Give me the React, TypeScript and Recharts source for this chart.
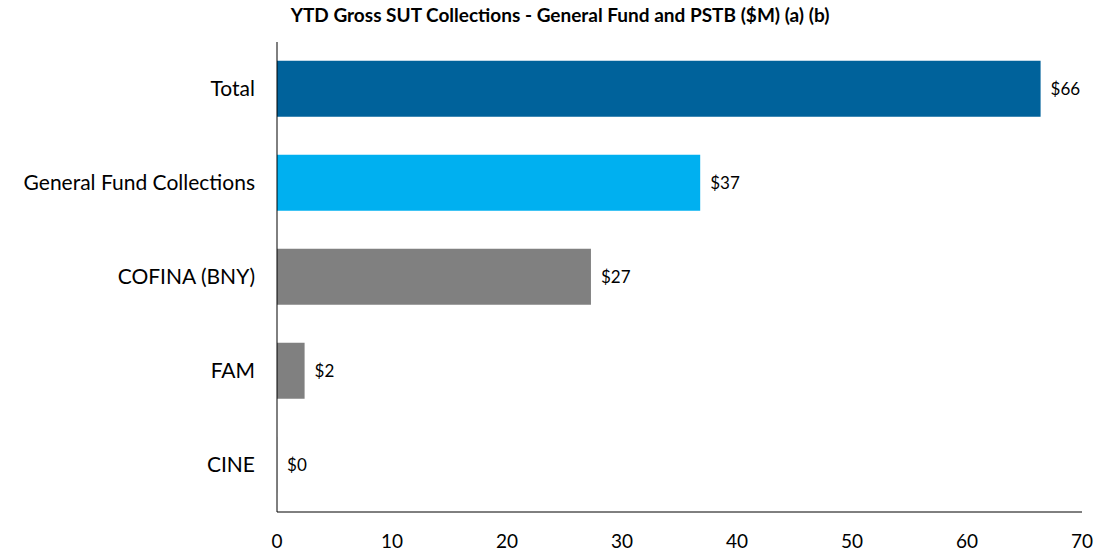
import React from 'react';
import { BarChart, Bar, XAxis, YAxis, Cell, LabelList } from 'recharts';

const categories = ['Total', 'General Fund Collections', 'COFINA (BNY)', 'FAM', 'CINE'];
const values = [66.4, 36.8, 27.3, 2.4, 0];
const colors = ['#00629B', '#00B0F0', '#808080', '#808080', '#808080'];
const xTicks = [0, 10, 20, 30, 40, 50, 60, 70];
const title = 'YTD Gross SUT Collections - General Fund and PSTB ($M) (a) (b)';

const data = categories.map((name, i) => ({ name, value: values[i] }));

const FONT = 'Lato, "Open Sans", sans-serif';

export default function App() {
  return (
    <div style={{ position: 'absolute', left: 0, top: 0, width: 1096, height: 553, background: '#fff', fontFamily: FONT }}>
      <BarChart
        width={1096}
        height={553}
        data={data}
        layout="vertical"
        margin={{ top: 42, right: 14, bottom: 6, left: 0 }}
        barCategoryGap="20%"
      >
        <text x={560} y={22} textAnchor="middle" fontFamily={FONT} fontWeight="bold" fontSize={19} fill="#000">
          {title}
        </text>
        <XAxis
          type="number"
          domain={[0, 70]}
          ticks={xTicks}
          tickLine={false}
          tickSize={0}
          tickMargin={23}
          height={35}
          axisLine={{ stroke: '#000', strokeWidth: 1 }}
          tick={{ fill: '#000', fontSize: 19, fontFamily: FONT }}
          interval={0}
        />
        <YAxis
          type="category"
          dataKey="name"
          width={277}
          tickLine={false}
          tickSize={0}
          tickMargin={22}
          axisLine={{ stroke: '#000', strokeWidth: 1 }}
          tick={{ fill: '#000', fontSize: 21, fontFamily: FONT }}
          interval={0}
        />
        <Bar dataKey="value" isAnimationActive={false} minPointSize={0.1}>
          {data.map((d, i) => (
            <Cell key={d.name} fill={colors[i]} />
          ))}
          <LabelList
            dataKey="value"
            position="right"
            offset={10}
            formatter={(v: number) => `$${Math.round(v)}`}
            style={{ fill: '#000', fontSize: 17, fontFamily: FONT }}
          />
        </Bar>
      </BarChart>
    </div>
  );
}
